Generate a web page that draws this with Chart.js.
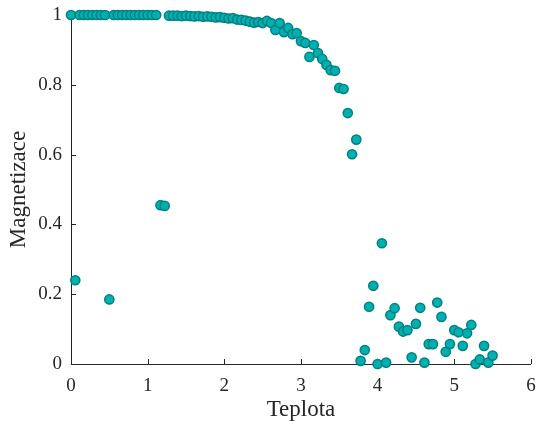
<!DOCTYPE html>
<html>
<head>
<meta charset="utf-8">
<script src="https://cdn.jsdelivr.net/npm/chart.js@4.4.1/dist/chart.umd.min.js"></script>
<style>
  html, body { margin: 0; padding: 0; background: #ffffff; }
  #c { display: block; }
</style>
</head>
<body>
<canvas id="c" width="537" height="424"></canvas>
<script>
// ---- data ----
const temperature = [
  0, 0.056, 0.111, 0.167, 0.222, 0.278, 0.333, 0.389, 0.444, 0.5,
  0.556, 0.611, 0.667, 0.722, 0.778, 0.833, 0.889, 0.944, 1.0, 1.056,
  1.111, 1.167, 1.222, 1.278, 1.333, 1.389, 1.444, 1.5, 1.556, 1.611,
  1.667, 1.722, 1.778, 1.833, 1.889, 1.944, 2.0, 2.056, 2.111, 2.167,
  2.222, 2.278, 2.333, 2.389, 2.444, 2.5, 2.556, 2.611, 2.667, 2.722,
  2.778, 2.833, 2.889, 2.944, 3.0, 3.056, 3.111, 3.167, 3.222, 3.278,
  3.333, 3.389, 3.444, 3.5, 3.556, 3.611, 3.667, 3.722, 3.778, 3.833,
  3.889, 3.944, 4.0, 4.056, 4.111, 4.167, 4.222, 4.278, 4.333, 4.389,
  4.444, 4.5, 4.556, 4.611, 4.667, 4.722, 4.778, 4.833, 4.889, 4.944,
  5.0, 5.056, 5.111, 5.167, 5.222, 5.278, 5.333, 5.389, 5.444, 5.5
];
const magnetization = [
  1, 0.24, 1, 1, 1, 1, 1, 1, 1, 0.185,
  1, 1, 1, 1, 1, 1, 1, 1, 1, 1,
  1, 0.455, 0.453, 0.998, 0.998, 0.998, 0.997, 0.998, 0.997, 0.996,
  0.997, 0.995, 0.996, 0.995, 0.993, 0.994, 0.992, 0.990, 0.991, 0.987,
  0.986, 0.984, 0.981, 0.978, 0.980, 0.977, 0.983, 0.977, 0.957, 0.977,
  0.951, 0.963, 0.945, 0.948, 0.925, 0.920, 0.880, 0.914, 0.891, 0.874,
  0.857, 0.842, 0.840, 0.791, 0.788, 0.719, 0.601, 0.643, 0.009, 0.040,
  0.164, 0.224, 0.000, 0.346, 0.004, 0.140, 0.160, 0.107, 0.093, 0.097,
  0.019, 0.115, 0.161, 0.004, 0.057, 0.057, 0.176, 0.135, 0.035, 0.057,
  0.097, 0.091, 0.052, 0.088, 0.112, 0.000, 0.013, 0.052, 0.004, 0.024
];
const xTicks = [0, 1, 2, 3, 4, 5, 6];
const yTicks = [0, 0.2, 0.4, 0.6, 0.8, 1];
const xTitle = 'Teplota';
const yTitle = 'Magnetizace';

// ---- styling ----
const FONT = "'Liberation Serif', 'DejaVu Serif', serif";
const AXIS = '#262626';

const points = temperature.map((t, i) => ({ x: t, y: magnetization[i] }));

const inwardTicks = {
  id: 'inwardTicks',
  beforeDatasetsDraw(chart) {
    const { ctx, scales: { x, y }, chartArea } = chart;
    ctx.save();
    ctx.strokeStyle = AXIS;
    ctx.lineWidth = 1;
    xTicks.forEach(v => {
      const px = Math.round(x.getPixelForValue(v)) + 0.5;
      ctx.beginPath();
      ctx.moveTo(px, chartArea.bottom);
      ctx.lineTo(px, chartArea.bottom - 5);
      ctx.stroke();
    });
    yTicks.forEach(v => {
      const py = Math.round(y.getPixelForValue(v)) + 0.5;
      ctx.beginPath();
      ctx.moveTo(chartArea.left, py);
      ctx.lineTo(chartArea.left + 5, py);
      ctx.stroke();
    });
    ctx.restore();
  }
};

new Chart(document.getElementById('c'), {
  type: 'scatter',
  data: {
    datasets: [{
      data: points,
      backgroundColor: 'rgb(0,176,176)',
      borderColor: 'rgb(0,128,128)',
      borderWidth: 1.5,
      pointRadius: 4.6,
      pointHoverRadius: 4.6,
      clip: false
    }]
  },
  options: {
    responsive: false,
    animation: false,
    devicePixelRatio: 1,
    layout: { padding: { left: 0, right: 6, top: 15, bottom: 0 } },
    plugins: {
      legend: { display: false },
      tooltip: { enabled: false }
    },
    scales: {
      x: {
        type: 'linear',
        min: 0, max: 6,
        afterBuildTicks: s => { s.ticks = xTicks.map(v => ({ value: v })); },
        afterFit: s => { s.height = 60; s.paddingLeft = 0; s.paddingRight = 0; },
        grid: { display: false, drawTicks: false },
        border: { display: true, color: AXIS, width: 1 },
        ticks: {
          color: AXIS, padding: 11,
          font: { family: FONT, size: 19 },
          callback: v => String(v)
        },
        title: {
          display: true, text: xTitle, color: AXIS,
          font: { family: FONT, size: 23 },
          padding: { top: 0, bottom: 0 }
        }
      },
      y: {
        type: 'linear',
        min: 0, max: 1,
        afterBuildTicks: s => { s.ticks = yTicks.map(v => ({ value: v })); },
        afterFit: s => { s.width = 71; s.paddingTop = 0; s.paddingBottom = 0; },
        grid: { display: false, drawTicks: false },
        border: { display: true, color: AXIS, width: 1 },
        ticks: {
          color: AXIS, padding: 9,
          font: { family: FONT, size: 19 },
          callback: v => String(Math.round(v * 10) / 10)
        },
        title: {
          display: true, text: yTitle, color: AXIS,
          font: { family: FONT, size: 23 },
          padding: { top: 5, bottom: 0 }
        }
      }
    }
  },
  plugins: [inwardTicks]
});
</script>
</body>
</html>
